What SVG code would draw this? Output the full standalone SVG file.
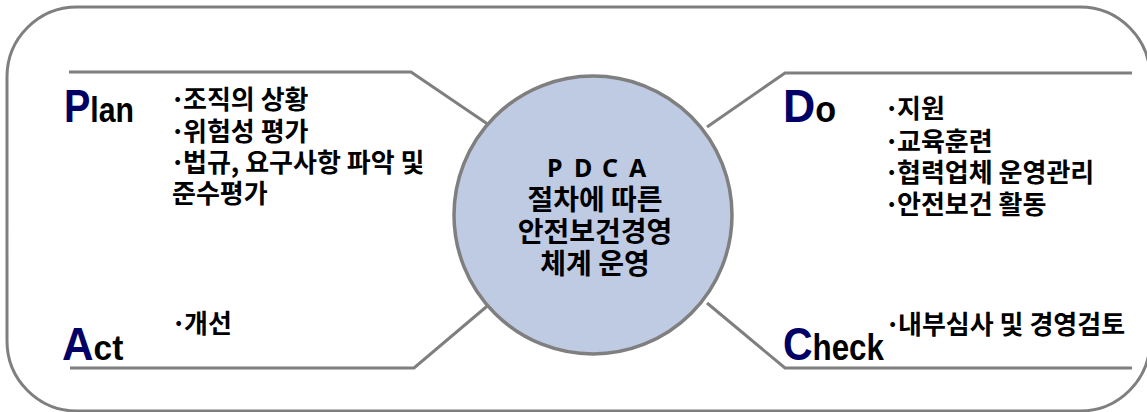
<svg xmlns="http://www.w3.org/2000/svg" width="1147" height="412" viewBox="0 0 1147 412">
<style>
.frame{fill:#fff;stroke:#7f7f7f;stroke-width:3}
.conn{fill:none;stroke:#7f7f7f;stroke-width:3}
.hub{fill:#bfcbe3;stroke:#7f7f7f;stroke-width:3.5}
.lbl{font-family:"Liberation Sans",Arial,sans-serif;font-weight:bold;fill:#000}
.big{font-size:47px;fill:#000066}
.small{font-size:36px;fill:#000}
.ko{font-family:"Noto Sans CJK KR","Noto Sans",sans-serif;font-weight:bold;font-size:26px;fill:#000}
.ctr{font-family:"Noto Sans CJK KR","Noto Sans",sans-serif;font-weight:bold;font-size:28px;fill:#000;text-anchor:middle}
.pdca{font-family:"Noto Sans","Liberation Sans",sans-serif;font-weight:bold;font-size:25px;fill:#000}
</style>
<rect class="frame" x="7" y="7" width="1143" height="404" rx="70" ry="70"/>
<g id="connectors">
<polyline class="conn" points="69,72 411,72 492,127"/>
<polyline class="conn" points="1132,73 785,73 707,127"/>
<polyline class="conn" points="70,368 414,368 492,302"/>
<polyline class="conn" points="1132,368 785,368 707,303"/>
</g>
<g id="center">
<circle class="hub" cx="593" cy="215" r="139"/>
<text class="pdca" x="547 574 602 629" y="177">PDCA</text>
<text class="ctr" x="595" y="210">절차에 따른</text>
<text class="ctr" x="595" y="242">안전보건경영</text>
<text class="ctr" x="595" y="274">체계 운영</text>
</g>
<g id="plan">
<text class="lbl" transform="translate(64,122) scale(0.84,1)"><tspan class="big">P</tspan><tspan class="small">lan</tspan></text>
<text class="ko" y="109"><tspan x="170">·</tspan><tspan x="183">조직의 상황</tspan></text>
<text class="ko" y="141"><tspan x="170">·</tspan><tspan x="183">위험성 평가</tspan></text>
<text class="ko" y="172"><tspan x="170">·</tspan><tspan x="183">법규, 요구사항 파악 및</tspan></text>
<text class="ko" x="172" y="203">준수평가</text>
</g>
<g id="do">
<text class="lbl" transform="translate(783,122) scale(0.95,1)"><tspan class="big">D</tspan><tspan class="small">o</tspan></text>
<text class="ko" y="118"><tspan x="884">·</tspan><tspan x="897">지원</tspan></text>
<text class="ko" y="151"><tspan x="884">·</tspan><tspan x="897">교육훈련</tspan></text>
<text class="ko" y="182"><tspan x="884">·</tspan><tspan x="897">협력업체 운영관리</tspan></text>
<text class="ko" y="214"><tspan x="884">·</tspan><tspan x="897">안전보건 활동</tspan></text>
</g>
<g id="act">
<text class="lbl" transform="translate(62,360) scale(0.93,1)"><tspan class="big">A</tspan><tspan class="small">ct</tspan></text>
<text class="ko" y="333"><tspan x="171">·</tspan><tspan x="184">개선</tspan></text>
</g>
<g id="check">
<text class="lbl" transform="translate(783,360) scale(0.87,1)"><tspan class="big">C</tspan><tspan class="small">heck</tspan></text>
<text class="ko" y="334"><tspan x="885">·</tspan><tspan x="898">내부심사 및 경영검토</tspan></text>
</g>
</svg>
